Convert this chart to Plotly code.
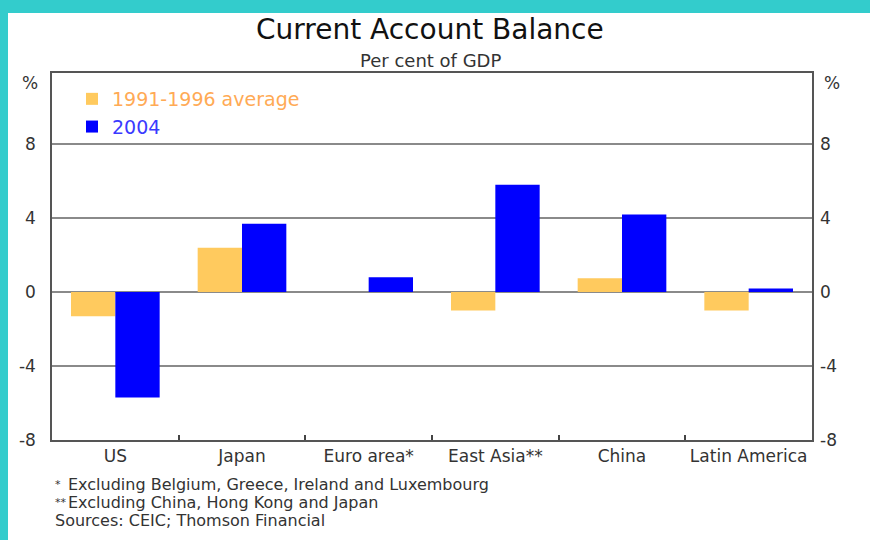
import plotly.graph_objects as go

categories = ["US", "Japan", "Euro area*", "East Asia**", "China", "Latin America"]
avg_1991_1996 = [-1.3, 2.4, None, -1.0, 0.75, -1.0]
val_2004 = [-5.7, 3.7, 0.8, 5.8, 4.2, 0.2]
ytick_vals = [-8, -4, 0, 4, 8]
ytick_text = ["-8", "-4", "0", "4", "8"]

FONT = "DejaVu Sans"
ORANGE = "#FFCA5E"
BLUE = "#0000FF"
TXT = "#333333"

fig = go.Figure()
fig.add_trace(go.Bar(
    x=categories, y=avg_1991_1996,
    name='<span style="color:#FFAA55">1991-1996 average</span>',
    marker=dict(color=ORANGE, line=dict(width=0)),
))
fig.add_trace(go.Bar(
    x=categories, y=val_2004,
    name='<span style="color:#3A3AFF">2004</span>',
    marker=dict(color=BLUE, line=dict(width=0)),
))
# invisible companion trace so the right-hand axis is drawn
fig.add_trace(go.Scatter(
    x=categories, y=val_2004, yaxis="y2", mode="none",
    showlegend=False, hoverinfo="skip",
))

# pixel helpers for paper coords (plot area: x 52..812, y 73..440)
def px(xp):
    return (xp - 52) / 760.0

def py(yp):
    return (440 - yp) / 367.0

fig.update_layout(
    width=870, height=540,
    margin=dict(l=52, r=58, t=73, b=100, autoexpand=False),
    paper_bgcolor="#33CCCC",
    plot_bgcolor="white",
    barmode="group",
    bargap=0.3,
    bargroupgap=0,
    font=dict(family=FONT, size=17, color=TXT),
    showlegend=True,
    legend=dict(
        x=px(72), y=py(80), xanchor="left", yanchor="top",
        bgcolor="rgba(0,0,0,0)", font=dict(size=19, family=FONT),
        tracegroupgap=0, itemwidth=30,
    ),
    xaxis=dict(
        type="category", tickson="boundaries", ticks="inside", ticklen=5,
        tickcolor="#444", tickwidth=1.5, showgrid=False, automargin=False,
        showline=True, mirror=True, linecolor="#555", linewidth=1.5,
        tickfont=dict(size=17, family=FONT, color=TXT), tickangle=0,
        range=[-0.5, 5.5],
    ),
    yaxis=dict(
        range=[-8, 11.85], tickvals=ytick_vals, ticktext=ytick_text,
        showgrid=True, gridcolor="#8a8a8a", gridwidth=1.5, zeroline=False,
        showline=True, mirror=True, linecolor="#555", linewidth=1.5,
        ticks="", ticklabelstandoff=11, automargin=False,
        tickfont=dict(size=17, family=FONT, color=TXT),
    ),
    yaxis2=dict(
        range=[-8, 11.85], tickvals=ytick_vals, ticktext=ytick_text,
        overlaying="y", side="right", anchor="x", showgrid=False,
        zeroline=False, showline=False, ticks="", ticklabelstandoff=7,
        automargin=False,
        tickfont=dict(size=17, family=FONT, color=TXT),
    ),
)

shapes = [dict(type="rect", xref="paper", yref="paper",
               x0=px(8), x1=px(880), y0=py(550), y1=py(13),
               fillcolor="white", line=dict(width=0), layer="below")]
fig.update_layout(shapes=shapes)

ann = []
ann.append(dict(text="Current Account Balance", x=px(430), y=py(29),
                xref="paper", yref="paper", showarrow=False,
                xanchor="center", yanchor="middle",
                font=dict(size=28, family=FONT, color="#111111")))
ann.append(dict(text="Per cent of GDP", x=px(430), y=py(60),
                xref="paper", yref="paper", showarrow=False,
                xanchor="center", yanchor="middle",
                font=dict(size=18, family=FONT, color=TXT)))
for xx in (30, 832):
    ann.append(dict(text="%", x=px(xx), y=py(83), xref="paper", yref="paper",
                    showarrow=False, xanchor="center", yanchor="middle",
                    font=dict(size=17, family=FONT, color=TXT)))
notes = [("*", "Excluding Belgium, Greece, Ireland and Luxembourg", 484),
         ("**", "Excluding China, Hong Kong and Japan", 502)]
for mark, t, yy in notes:
    ann.append(dict(text=mark, x=px(53), y=py(yy), xref="paper", yref="paper",
                    showarrow=False, xanchor="left", yanchor="middle",
                    font=dict(size=11, family=FONT, color=TXT)))
    ann.append(dict(text=t, x=px(66), y=py(yy), xref="paper", yref="paper",
                    showarrow=False, xanchor="left", yanchor="middle",
                    font=dict(size=16, family=FONT, color=TXT)))
ann.append(dict(text="Sources: CEIC; Thomson Financial", x=px(53), y=py(520),
                xref="paper", yref="paper", showarrow=False,
                xanchor="left", yanchor="middle",
                font=dict(size=16, family=FONT, color=TXT)))
fig.update_layout(annotations=ann)

fig.write_html("out.html", config={"displayModeBar": False},
               post_script="document.body.style.margin='0px';")
